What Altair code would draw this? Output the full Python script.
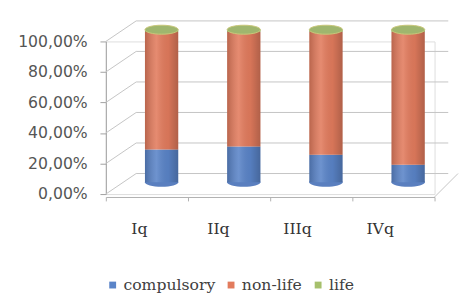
import altair as alt
import pandas as pd

quarters = ["Iq", "IIq", "IIIq", "IVq"]
compulsory = [0.215, 0.235, 0.180, 0.115]
non_life = [0.770, 0.750, 0.805, 0.870]
life = [0.015, 0.015, 0.015, 0.015]
series = ["compulsory", "non-life", "life"]
colors = ["#5a84c8", "#e27b5d", "#a6c06c"]
ticks = [0, 0.2, 0.4, 0.6, 0.8, 1.0]

rows = []
for i, q in enumerate(quarters):
    for j, (s, vals) in enumerate(zip(series, [compulsory, non_life, life])):
        rows.append({"q": q, "series": s, "value": vals[i], "idx": j})
df = pd.DataFrame(rows)
totals = pd.DataFrame({"q": quarters, "top": [c + n + l for c, n, l in zip(compulsory, non_life, life)], "bottom": [0] * 4})
tick_df = pd.DataFrame({"v": ticks})

W, H = 336, 156
DX, DY = 31, -21
BY = -12
grid_color = "#c4c4c4"

yscale = alt.Scale(domain=[0, 1], nice=False)
y_axis = alt.Axis(
    title=None, values=ticks, grid=False, tickSize=6, tickColor="#a0a0a0", domainColor="#a0a0a0",
    labelFont="DejaVu Sans", labelFontSize=16, labelColor="#555555", labelPadding=13,
    labelExpr="replace(format(datum.value, '.2%'), '.', ',')")
xenc = alt.X("q:N", sort=quarters, scale=alt.Scale(paddingInner=0, paddingOuter=0),
             axis=alt.Axis(title=None, labelAngle=0, labelFont="DejaVu Serif", labelFontSize=16,
                           labelColor="#333333", labelPadding=28, tickBand="extent", offset=3,
                           domainColor="#b0b0b0", tickColor="#b0b0b0", tickSize=4))

back_grid = alt.Chart(tick_df).mark_rule(color=grid_color, yOffset=DY).encode(
    x=alt.value(DX), x2=alt.value(350),
    y=alt.Y("v:Q", scale=yscale, axis=y_axis),
)
side = alt.Chart(tick_df).mark_rule(color=grid_color, y2Offset=DY).encode(
    x=alt.value(0), x2=alt.value(DX), y=alt.Y("v:Q", scale=yscale, axis=y_axis), y2="v:Q"
)
floor_right = alt.Chart(tick_df[tick_df.v == 0]).mark_rule(color=grid_color, yOffset=3, y2Offset=DY).encode(
    x=alt.value(W), x2=alt.value(W + 24), y=alt.Y("v:Q", scale=yscale, axis=y_axis), y2="v:Q"
)

bars = alt.Chart(df).mark_bar(width=34, xOffset=15, yOffset=BY, y2Offset=BY).encode(
    x=xenc,
    y=alt.Y("value:Q", stack=True, scale=yscale, axis=y_axis),
    color=alt.Color("series:N", scale=alt.Scale(domain=series, range=colors),
                    legend=alt.Legend(title=None, orient="none", direction="horizontal",
                                      legendX=-1, legendY=241, symbolType="square", symbolSize=49,
                                      labelFont="DejaVu Serif", labelFontSize=16, labelColor="#404040",
                                      columnPadding=8, symbolOffset=0, labelOffset=3)),
    order=alt.Order("idx:Q"),
)

shade = alt.Chart(totals).mark_bar(
    width=34, xOffset=15, yOffset=BY, y2Offset=BY,
    fill=alt.LinearGradient(gradient="linear", x1=0, y1=0, x2=1, y2=0, stops=[
        alt.GradientStop(color="rgba(0,0,0,0.18)", offset=0),
        alt.GradientStop(color="rgba(255,255,255,0.12)", offset=0.35),
        alt.GradientStop(color="rgba(0,0,0,0.05)", offset=0.7),
        alt.GradientStop(color="rgba(0,0,0,0.22)", offset=1),
    ])
).encode(x=alt.X("q:N", sort=quarters), y=alt.Y("bottom:Q", scale=yscale, axis=y_axis), y2="top:Q")

ellipse = "M-1,0 A1,0.27 0 1,1 1,0 A1,0.27 0 1,1 -1,0 Z"
bottom_cap = alt.Chart(totals).mark_point(shape=ellipse, size=1156, filled=True, fill="#5a7fbf",
                                          opacity=1, xOffset=15, yOffset=BY).encode(
    x=alt.X("q:N", sort=quarters), y=alt.Y("bottom:Q", scale=yscale, axis=y_axis)
)
top_cap = alt.Chart(totals).mark_point(shape=ellipse, size=1156, filled=True, fill="#9fb66e",
                                       stroke="#c9c77a", strokeWidth=1, opacity=1, xOffset=15, yOffset=BY).encode(
    x=alt.X("q:N", sort=quarters), y=alt.Y("top:Q", scale=yscale, axis=y_axis)
)

chart = alt.layer(back_grid, side, floor_right, bottom_cap, bars, shade, top_cap).properties(
    width=W, height=H, padding={"left": 9, "top": 9, "right": 0, "bottom": 0}
).configure_view(stroke=None).configure(background="white")

chart.save("out.html", embed_options={"renderer": "svg", "actions": False})
